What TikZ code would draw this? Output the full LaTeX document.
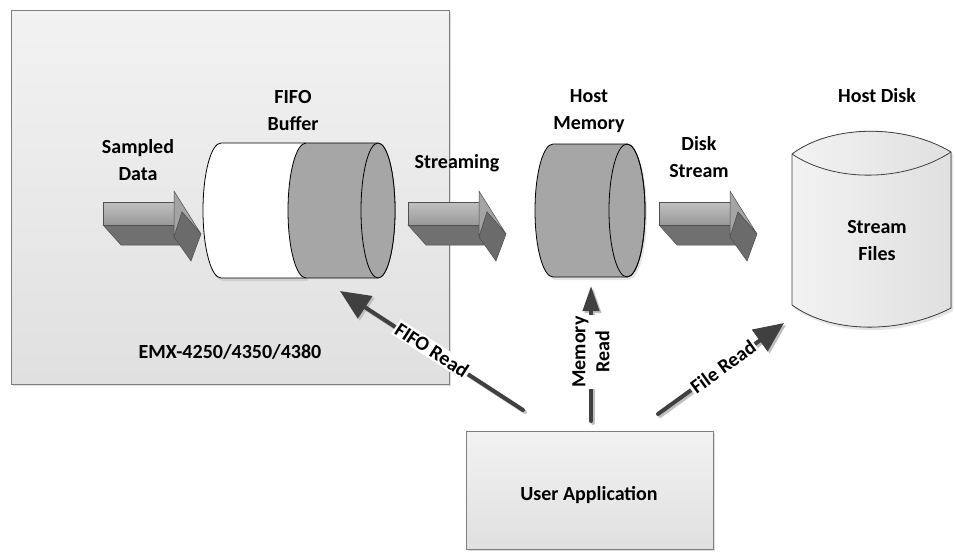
\documentclass[tikz,border=0pt]{standalone}
\usepackage{fontspec}
\setmainfont{Carlito}
\usetikzlibrary{arrows.meta,shadows}
\definecolor{boxtop}{HTML}{F2F2F2}
\definecolor{boxbot}{HTML}{E0E0E0}
\definecolor{boxedge}{HTML}{7F7F7F}
\definecolor{cylgray}{HTML}{A6A6A6}
\definecolor{darkline}{HTML}{404040}
\definecolor{arredge}{HTML}{505050}
\definecolor{shafttop}{HTML}{C0C0C0}
\definecolor{shaftbot}{HTML}{999999}
\definecolor{shaftdark}{HTML}{707070}
\definecolor{headlight}{HTML}{A4A4A4}
\definecolor{headdark}{HTML}{6B6B6B}
\begin{document}
\begin{tikzpicture}[x=1pt,y=-1pt,
  every node/.style={font=\fontsize{20}{27}\selectfont\bfseries},
  lbl/.style={align=center, inner sep=0pt},
  tag/.style={fill=white, inner sep=1.5pt, align=center},
  panel/.style={draw=boxedge, line width=0.8pt, top color=boxtop, bottom color=boxbot,
     drop shadow={shadow xshift=2pt, shadow yshift=-2pt, opacity=0.25}},
  cyl/.style={draw=black, line width=0.8pt},
  readline/.style={draw=darkline, line width=4pt, line cap=round, -{Triangle[length=30pt,width=26pt]}},
  readshadow/.style={draw=black!25, line width=4pt, line cap=round, -{Triangle[length=30pt,width=26pt]}},
  fatarrow/.pic={
    \filldraw[fill=shaftdark, draw=arredge, line width=0.5pt] (0,23) -- (18,43) -- (77,43) -- (71,35) -- (71,23) -- cycle;
    \filldraw[top color=shafttop, bottom color=shaftbot, draw=arredge, line width=0.5pt] (0,0) -- (71,0) -- (71,23) -- (0,23) -- cycle;
    \filldraw[fill=headlight, draw=arredge, line width=0.5pt] (71,-11) -- (98,32) -- (79,10) -- (71,35) -- cycle;
    \filldraw[fill=headdark, draw=arredge, line width=0.5pt] (79,10) -- (98,32) -- (88,59) -- (71,35) -- cycle;
  }]
\useasboundingbox (0,0) rectangle (955,552);
\fill[white] (0,0) rectangle (955,552);

% EMX board panel
\node (emx) [panel, anchor=north west, minimum width=438pt, minimum height=374pt, inner sep=0pt] at (11,10) {};
\node (emxlbl) [lbl] at (230,352) {EMX-4250/4350/4380};

% User application box
\node (app) [panel, anchor=north west, minimum width=247pt, minimum height=118pt, inner sep=0pt] at (466,431) {};
\node (applbl) [lbl] at (589,495) {User Application};

% 3D arrows
\pic at (103,202) {fatarrow};
\pic at (408,202) {fatarrow};
\pic at (659,202) {fatarrow};

% FIFO buffer cylinder
\path[drop shadow={shadow xshift=2pt, shadow yshift=-3pt, opacity=0.2}, fill=white]
  (221,143) -- (306,143) -- (306,278) -- (221,278) arc[start angle=90,end angle=270,x radius=18,y radius=67.5] -- cycle;
\draw[cyl] (306,143) -- (221,143) arc[start angle=270,end angle=90,x radius=18,y radius=67.5] -- (306,278);
\filldraw[cyl, fill=cylgray] (306,143) -- (378,143) arc[start angle=270,end angle=450,x radius=17,y radius=67.5]
  -- (306,278) arc[start angle=90,end angle=270,x radius=18,y radius=67.5] -- cycle;
\filldraw[cyl, fill=cylgray] (378,210.5) ellipse[x radius=17,y radius=67.5];
\coordinate (fifo) at (300,210);

% Host memory cylinder
\filldraw[cyl, fill=cylgray, drop shadow={shadow xshift=2pt, shadow yshift=-3pt, opacity=0.2}]
  (553,144) -- (627,144) arc[start angle=270,end angle=450,x radius=18,y radius=66.5]
  -- (553,277) arc[start angle=90,end angle=270,x radius=18,y radius=66.5] -- cycle;
\draw[cyl] (627,210.5) ellipse[x radius=18,y radius=66.5];

% Host disk
\filldraw[draw=black!75, line width=0.8pt, left color=boxtop, right color=boxbot,
   drop shadow={shadow xshift=2pt, shadow yshift=-3pt, opacity=0.2}]
  (792,154) .. controls (832,124) and (905,124) .. (951,152) -- (951,308)
  .. controls (905,332) and (835,336) .. (792,305) -- cycle;
\draw[draw=black!75, line width=0.8pt] (792,154) .. controls (835,183) and (905,182) .. (951,152);

% texts
\node (sdlbl) [lbl] at (138,160) {Sampled\\Data};
\node (fifolbl) [lbl] at (293,111) {FIFO\\Buffer};
\node (strlbl) [lbl] at (457,163) {Streaming};
\node (hmlbl) [lbl] at (589,111) {Host\\Memory};
\node (dslbl) [lbl] at (699,157) {Disk\\Stream};
\node (hdlbl) [lbl] at (877,96) {Host Disk};
\node (sflbl) [lbl] at (877,241) {Stream\\Files};

% read connectors
\coordinate (t1) at (523,410);
\coordinate (h1) at (340,291);
\coordinate (t2) at (591,421);
\coordinate (h2) at (591,286);
\coordinate (t3) at (658,414);
\coordinate (h3) at (784,323);
\draw[readshadow] ([shift={(2,2)}]t1) -- ([shift={(2,2)}]h1);
\draw[readshadow, -{Triangle[length=25pt,width=16pt]}] ([shift={(2,2)}]t2) -- ([shift={(2,2)}]h2);
\draw[readshadow] ([shift={(2,2)}]t3) -- ([shift={(2,2)}]h3);
\draw[readline] (t1) -- (h1);
\draw[readline, -{Triangle[length=25pt,width=16pt]}] (t2) -- (h2);
\draw[readline] (t3) -- (h3);
\node (fr) [tag, rotate=-33] at (432,350) {FIFO Read};
\node (mr) [tag, rotate=90, font=\fontsize{20}{24}\selectfont\bfseries] at (591,352) {Memory\\Read};
\node (flr) [tag, rotate=36] at (723,367) {File Read};
\end{tikzpicture}
\end{document}
